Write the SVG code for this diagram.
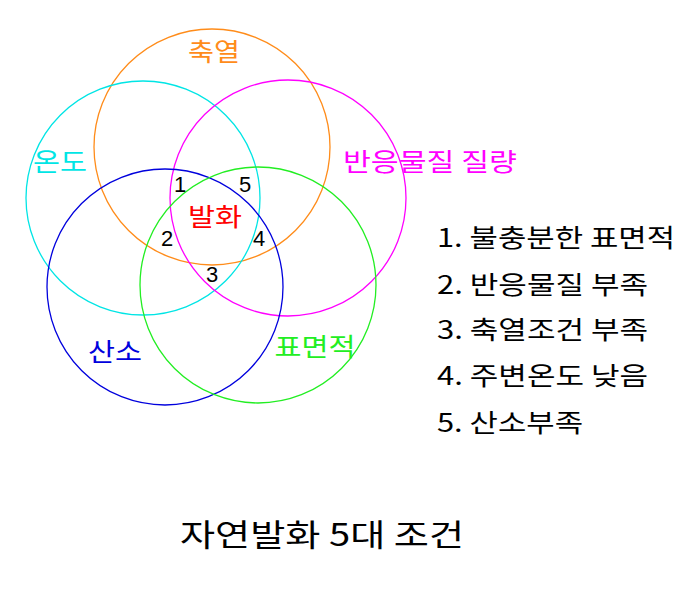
<svg xmlns="http://www.w3.org/2000/svg" width="693" height="591" viewBox="0 0 693 591">
<style>
text{font-family:"Noto Sans CJK KR","Liberation Sans",sans-serif;}
.c{fill:none;stroke-width:1.3}
.l{font-size:25px;text-anchor:middle}
.n{font-size:22px;text-anchor:middle;fill:#000;font-family:"Liberation Sans",sans-serif}
.li{font-size:25px;fill:#000}
</style>
<rect width="693" height="591" fill="#fff"/>
<g id="connectors"></g>
<g id="n-orange"><circle class="c" cx="212" cy="147" r="118" stroke="#ff8c1a"/><text class="l" x="214" y="61" fill="#ff8c1a" textLength="52" lengthAdjust="spacingAndGlyphs">축열</text></g>
<g id="n-cyan"><circle class="c" cx="143" cy="198" r="117" stroke="#00e5e5"/><text class="l" x="60" y="171" fill="#00e5e5" textLength="54" lengthAdjust="spacingAndGlyphs">온도</text></g>
<g id="n-magenta"><circle class="c" cx="288" cy="198" r="118" stroke="#ff00ff"/><text class="l" x="430" y="171" fill="#ff00ff" textLength="174" lengthAdjust="spacingAndGlyphs">반응물질 질량</text></g>
<g id="n-blue"><circle class="c" cx="165" cy="287" r="118" stroke="#0000dd"/><text class="l" x="115" y="361" fill="#0000dd" textLength="54" lengthAdjust="spacingAndGlyphs">산소</text></g>
<g id="n-green"><circle class="c" cx="258" cy="285" r="118" stroke="#22ee22"/><text class="l" x="315" y="356" fill="#22ee22" textLength="81" lengthAdjust="spacingAndGlyphs">표면적</text></g>
<g id="center"><text class="l" x="215" y="226" fill="#ff0000" textLength="54" lengthAdjust="spacingAndGlyphs">발화</text>
<text class="n" x="180" y="192">1</text><text class="n" x="245" y="192">5</text><text class="n" x="167" y="246">2</text><text class="n" x="259" y="246">4</text><text class="n" x="212" y="282">3</text></g>
<g id="list">
<text class="li" x="437" y="247" textLength="238" lengthAdjust="spacingAndGlyphs">1. 불충분한 표면적</text>
<text class="li" x="437" y="294" textLength="211" lengthAdjust="spacingAndGlyphs">2. 반응물질 부족</text>
<text class="li" x="437" y="339" textLength="211" lengthAdjust="spacingAndGlyphs">3. 축열조건 부족</text>
<text class="li" x="437" y="385" textLength="211" lengthAdjust="spacingAndGlyphs">4. 주변온도 낮음</text>
<text class="li" x="437" y="432" textLength="146" lengthAdjust="spacingAndGlyphs">5. 산소부족</text>
</g>
<text x="180" y="546" style="font-size:31px;fill:#000" textLength="284" lengthAdjust="spacingAndGlyphs">자연발화 5대 조건</text>
</svg>
